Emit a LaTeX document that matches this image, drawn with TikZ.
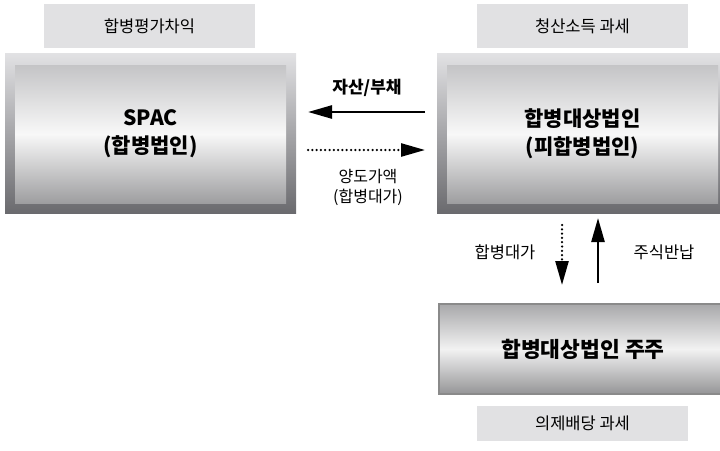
\documentclass[tikz,border=0pt]{standalone}
\usepackage{fontspec}
\setmainfont{Noto Sans CJK KR}
\usetikzlibrary{arrows.meta}
\definecolor{lblfill}{HTML}{E1E1E3}
\definecolor{frametop}{HTML}{E2E2E4}
\definecolor{framebot}{HTML}{6A6A6E}
\definecolor{innertop}{HTML}{C4C4C6}
\definecolor{innermid}{HTML}{F8F8F8}
\definecolor{innerbot}{HTML}{9E9EA0}
\definecolor{shbord}{HTML}{8A8A8A}
\definecolor{shtop}{HTML}{A8A8AA}
\definecolor{shmid}{HTML}{F2F2F2}
\definecolor{shbot}{HTML}{959597}
\tikzset{
  lbl/.style={fill=lblfill, minimum width=211pt, minimum height=44pt, inner sep=0pt, font=\fontsize{16.5}{18}\selectfont},
  frame/.style={top color=frametop, bottom color=framebot, inner sep=0pt},
  innerbox/.style={top color=innertop, bottom color=innerbot, middle color=innermid, inner sep=0pt, align=center, font=\bfseries\fontsize{21}{28}\selectfont},
  sharebox/.style={draw=shbord, line width=2pt, top color=shtop, bottom color=shbot, middle color=shmid, inner sep=0pt},
  arr/.style={line width=2.5pt, -{Triangle[length=24pt,width=13pt]}},
  dotarr/.style={arr, dash pattern=on 0pt off 4.3pt, line cap=round},
  txt/.style={inner sep=0pt, font=\fontsize{16}{20}\selectfont},
  btxt/.style={inner sep=0pt, font=\bfseries\fontsize{17}{18}\selectfont}
}
\begin{document}
\begin{tikzpicture}[x=1pt,y=-1pt]
\useasboundingbox (0,0) rectangle (720,450);
% top labels
\node[lbl] (l1) at (149.5,26) {합병평가차익};
\node[lbl] (l2) at (582.5,26) {청산소득 과세};
% SPAC box
\node[frame, minimum width=291pt, minimum height=160pt] (spacf) at (150.5,133) {};
\node[innerbox, minimum width=271pt, minimum height=138pt] (spac) at (150.5,134) {SPAC\\(합병법인)};
% target box
\node[frame, minimum width=283pt, minimum height=160pt] (tgtf) at (578.5,133) {};
\node[innerbox, minimum width=271pt, minimum height=138pt] (tgt) at (582.5,134) {합병대상법인\\(피합병법인)};
% shareholders box
\node[sharebox, minimum width=282pt, minimum height=90pt] (sh) at (580,349) {};
\node[inner sep=0pt, font=\bfseries\fontsize{21.5}{24}\selectfont] (shtxt) at (583,349) {합병대상법인 주주};
% bottom label
\node[lbl, minimum height=35pt] (l3) at (582.5,423.5) {의제배당 과세};
% horizontal arrows
\coordinate (a1s) at (425,112);
\coordinate (a1e) at (308,112);
\coordinate (a2s) at (308,150);
\coordinate (a2e) at (425,150);
\draw[arr] (a1s) -- (a1e);
\draw[dotarr] (a2s) -- (a2e);
\node[btxt] (t1) at (367,88) {자산/부채};
\node[txt, align=center] (t2) at (368,187.5) {양도가액\\(합병대가)};
% vertical arrows
\coordinate (v1s) at (562,225);
\coordinate (v1e) at (562,285);
\coordinate (v2s) at (598,283);
\coordinate (v2e) at (598,218);
\draw[dotarr] (v1s) -- (v1e);
\draw[arr] (v2s) -- (v2e);
\node[txt, font=\fontsize{16.5}{18}\selectfont] (t4) at (505,252) {합병대가};
\node[txt, font=\fontsize{16.5}{18}\selectfont] (t5) at (664,252) {주식반납};
\end{tikzpicture}
\end{document}
